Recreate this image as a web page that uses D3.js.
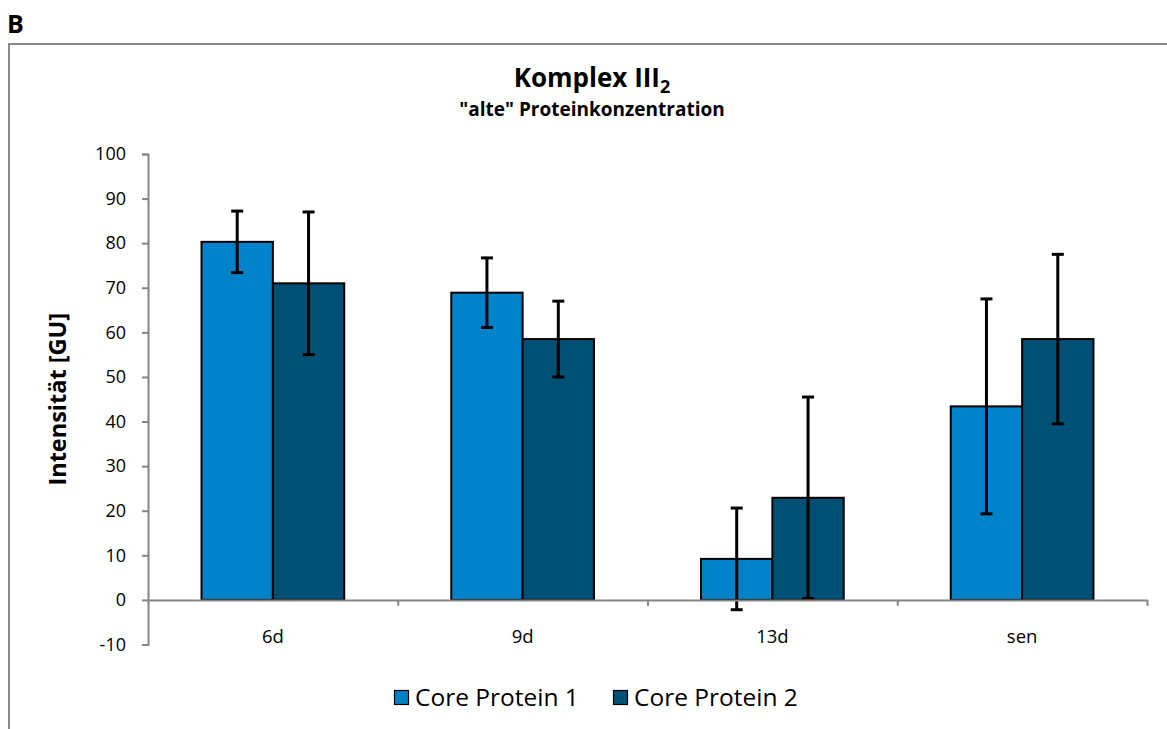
<!DOCTYPE html>
<html>
<head>
<meta charset="utf-8">
<script src="https://cdn.jsdelivr.net/npm/d3@7"></script>
<style>
  html, body { margin: 0; padding: 0; background: #fff; }
  svg { display: block; font-family: "Open Sans", "Noto Sans", sans-serif; }
</style>
</head>
<body>
<svg id="chart" width="1167" height="729"></svg>
<script>
// Categories and series
const categories = ["6d", "9d", "13d", "sen"];
const seriesNames = ["Core Protein 1", "Core Protein 2"];
const seriesColors = ["#0082CA", "#004F75"];

// Mean intensities per series
const core1 = [80.3, 68.9, 9.2, 43.4];
const core2 = [71.0, 58.5, 22.9, 58.5];

// Error bar half-widths (standard deviation)
const core1Err = [6.9, 7.8, 11.4, 24.1];
const core2Err = [16.0, 8.5, 22.6, 19.0];

const yTicks = [-10, 0, 10, 20, 30, 40, 50, 60, 70, 80, 90, 100];

const svg = d3.select("#chart");

// Panel letter and frame
svg.append("text")
  .attr("x", 7).attr("y", 33)
  .attr("font-size", 25).attr("font-weight", "bold")
  .text("B");

svg.append("path")
  .attr("d", "M9,729 L9,44 L1167,44")
  .attr("fill", "none")
  .attr("stroke", "#8a8a8a")
  .attr("stroke-width", 2);

// Title
const title = svg.append("text")
  .attr("x", 592).attr("y", 87)
  .attr("text-anchor", "middle")
  .attr("font-size", 26).attr("font-weight", "bold");
title.append("tspan").text("Komplex III");
title.append("tspan").attr("dy", 6).attr("font-size", 18).text("2");

svg.append("text")
  .attr("x", 592).attr("y", 116)
  .attr("text-anchor", "middle")
  .attr("font-size", 19).attr("font-weight", "bold")
  .text("\"alte\" Proteinkonzentration");

// Scales
const plotLeft = 148, plotRight = 1147;
const y = d3.scaleLinear().domain([-10, 100]).range([644.5, 154]);
const x0 = d3.scaleBand().domain(categories).range([plotLeft, plotRight])
  .paddingInner(1.5 / 3.5).paddingOuter(0.75 / 3.5);
const x1 = d3.scaleBand().domain(seriesNames).range([0, x0.bandwidth()]);

const rows = categories.map((c, i) => ({
  cat: c,
  values: [
    { s: seriesNames[0], v: core1[i], e: core1Err[i], color: seriesColors[0] },
    { s: seriesNames[1], v: core2[i], e: core2Err[i], color: seriesColors[1] }
  ]
}));

// Y axis
const yAxis = d3.axisLeft(y).tickValues(yTicks).tickSize(6).tickPadding(16)
  .tickFormat(d => String(d));
const gy = svg.append("g").attr("transform", `translate(${plotLeft},0)`).call(yAxis);
gy.select(".domain").attr("stroke", "#868686").attr("stroke-width", 2);
gy.selectAll(".tick line").attr("stroke", "#868686").attr("stroke-width", 2);
gy.selectAll(".tick text").attr("font-size", 18).attr("fill", "#000")
  .attr("font-family", "\"Open Sans\", sans-serif");

// Bars
const groups = svg.append("g").selectAll("g")
  .data(rows).join("g")
  .attr("transform", d => `translate(${x0(d.cat)},0)`);

groups.selectAll("rect")
  .data(d => d.values).join("rect")
  .attr("x", d => x1(d.s))
  .attr("width", x1.bandwidth())
  .attr("y", d => y(Math.max(0, d.v)))
  .attr("height", d => Math.abs(y(d.v) - y(0)))
  .attr("fill", d => d.color)
  .attr("stroke", "#000")
  .attr("stroke-width", 2);

// X axis with ticks at category boundaries
const xBound = d3.scaleLinear().domain([0, categories.length]).range([plotLeft, plotRight]);
const xAxis = d3.axisBottom(xBound).tickValues(d3.range(0, categories.length + 1))
  .tickSize(6).tickSizeOuter(0).tickFormat("");
const gx = svg.append("g").attr("transform", `translate(0,${y(0)})`).call(xAxis);
gx.select(".domain").attr("stroke", "#868686").attr("stroke-width", 2);
gx.selectAll(".tick line").attr("stroke", "#868686").attr("stroke-width", 2);
gx.selectAll(".tick").filter(d => d === 0).remove();

svg.append("g").selectAll("text")
  .data(categories).join("text")
  .attr("x", d => x0(d) + x0.bandwidth() / 2)
  .attr("y", 643)
  .attr("text-anchor", "middle")
  .attr("font-size", 18.5)
  .text(d => d);

// Error bars
const capHalf = 6;
const err = groups.selectAll("g.err")
  .data(d => d.values).join("g").attr("class", "err")
  .attr("transform", d => `translate(${x1(d.s) + x1.bandwidth() / 2},0)`)
  .attr("stroke", "#000").attr("stroke-width", 3);
err.append("line")
  .attr("x1", 0).attr("x2", 0)
  .attr("y1", d => y(d.v + d.e)).attr("y2", d => y(d.v - d.e));
err.append("line")
  .attr("x1", -capHalf).attr("x2", capHalf)
  .attr("y1", d => y(d.v + d.e)).attr("y2", d => y(d.v + d.e));
err.append("line")
  .attr("x1", -capHalf).attr("x2", capHalf)
  .attr("y1", d => y(d.v - d.e)).attr("y2", d => y(d.v - d.e));

// Y axis title, centred on the plot height
svg.append("text")
  .attr("transform", `translate(66,${(y(-10) + y(100)) / 2}) rotate(-90)`)
  .attr("text-anchor", "middle")
  .attr("font-size", 23.5).attr("font-weight", "bold")
  .text("Intensität [GU]");

// Legend
const legendX = [394, 613];
const legend = svg.append("g").selectAll("g")
  .data(seriesNames).join("g")
  .attr("transform", (d, i) => `translate(${legendX[i]},690)`);
legend.append("rect")
  .attr("x", 0.5).attr("y", 0.5)
  .attr("width", 14).attr("height", 14)
  .attr("fill", (d, i) => seriesColors[i])
  .attr("stroke", "#000").attr("stroke-width", 1.2);
legend.append("text")
  .attr("x", 21).attr("y", 15.5)
  .attr("font-size", 24.5)
  .text(d => d);
</script>
</body>
</html>
